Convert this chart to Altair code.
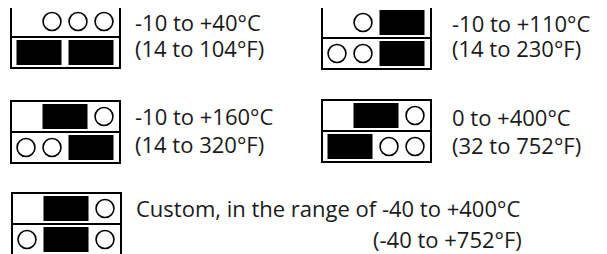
import altair as alt
import pandas as pd

# ---- data: jumper settings and their temperature ranges ----
LABEL_C = ["-10 to +40°C", "-10 to +110°C", "-10 to +160°C", "0 to +400°C",
           "Custom, in the range of -40 to +400°C"]
LABEL_F = ["(14 to 104°F)", "(14 to 230°F)", "(14 to 320°F)", "(32 to 752°F)",
           "(-40 to +752°F)"]
# open pins (index 0..3) per row
PINS_TOP = [[1, 2, 3], [1], [3], [3], [3]]
PINS_BOTTOM = [[], [0, 1], [0, 1], [2, 3], [0, 3]]
# jumpers: index of first pin covered (each covers two pins)
JUMPERS_TOP = [[], [2], [1], [1], [1]]
JUMPERS_BOTTOM = [[0, 2], [2], [2], [0], [1]]

# ---- layout (page pixels) ----
W, H = 591, 246
BLOCK_X = [11, 322, 11, 322, 12]
BLOCK_Y = [6, 7, 101, 100, 193]
BOX_W, ROW_H = 109, 31
PIN_OFF, PITCH = 15, 26
JW, J_INSET, JH = 45, 3, 25
TEXT_X_C = [135, 452, 135, 452, 136]
TEXT_X_F = [135, 452, 135, 452, 373]
TEXT_Y_C = [31, 32, 125, 126, 217]
TEXT_Y_F = [57, 57, 153, 154, 248]

boxes, divs, pins, jumpers, texts = [], [], [], [], []
for b in range(len(LABEL_C)):
    x0, y0 = BLOCK_X[b], BLOCK_Y[b]
    boxes.append(dict(x=x0, x2=x0 + BOX_W, y=y0, y2=y0 + 2 * ROW_H))
    divs.append(dict(x=x0, x2=x0 + BOX_W, y=y0 + ROW_H))
    for r, (plist, jlist) in enumerate([(PINS_TOP[b], JUMPERS_TOP[b]),
                                        (PINS_BOTTOM[b], JUMPERS_BOTTOM[b])]):
        ry = y0 + r * ROW_H
        for p in plist:
            pins.append(dict(x=x0 + PIN_OFF + p * PITCH, y=ry + ROW_H / 2))
        for j in jlist:
            cx = x0 + PIN_OFF + j * PITCH + PITCH / 2
            jumpers.append(dict(x=cx - JW / 2, x2=cx + JW / 2,
                                y=ry + J_INSET, y2=ry + J_INSET + JH))
    texts.append(dict(x=TEXT_X_C[b], y=TEXT_Y_C[b], t=LABEL_C[b]))
    texts.append(dict(x=TEXT_X_F[b], y=TEXT_Y_F[b], t=LABEL_F[b]))

xs = alt.Scale(domain=[8, 8 + W], nice=False, zero=False)
ys = alt.Scale(domain=[8, 8 + H], nice=False, zero=False, reverse=True)
X = lambda f: alt.X(f, type="quantitative", scale=xs, axis=None)
Y = lambda f: alt.Y(f, type="quantitative", scale=ys, axis=None)

box_layer = alt.Chart(pd.DataFrame(boxes)).mark_rect(
    fill="transparent", stroke="black", strokeWidth=2
).encode(x=X("x"), x2="x2", y=Y("y"), y2="y2")

div_layer = alt.Chart(pd.DataFrame(divs)).mark_rule(
    color="black", strokeWidth=2
).encode(x=X("x"), x2="x2", y=Y("y"))

jump_layer = alt.Chart(pd.DataFrame(jumpers)).mark_rect(
    color="black"
).encode(x=X("x"), x2="x2", y=Y("y"), y2="y2")

pin_layer = alt.Chart(pd.DataFrame(pins)).mark_point(
    shape="circle", filled=False, color="black", size=320, strokeWidth=1.6, opacity=1
).encode(x=X("x"), y=Y("y"))

text_layer = alt.Chart(pd.DataFrame(texts)).mark_text(
    align="left", baseline="alphabetic", font="Open Sans", fontSize=22, color="#1a1a1a"
).encode(x=X("x"), y=Y("y"), text="t:N")

chart = alt.layer(box_layer, div_layer, jump_layer, pin_layer, text_layer).properties(
    width=W, height=H, autosize=alt.AutoSizeParams(type="none"), padding=0
).configure_view(stroke=None)

chart.save("out.html", embed_options={"renderer": "svg", "actions": False})
